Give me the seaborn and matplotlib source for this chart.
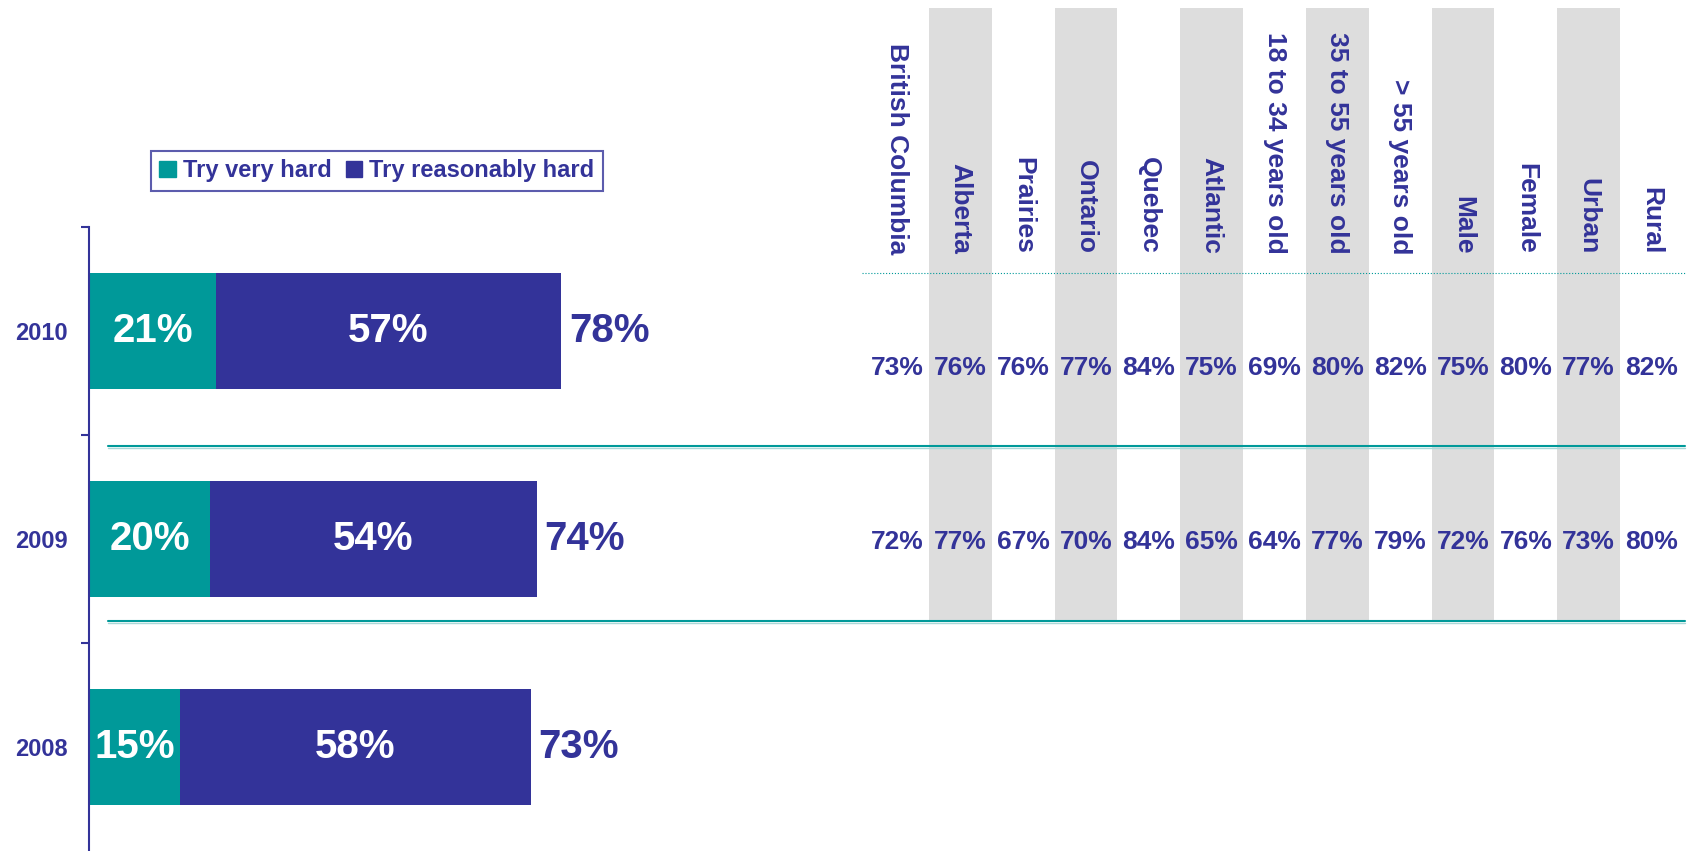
import pandas as pd
import matplotlib
matplotlib.use('Agg')
import matplotlib.pyplot as plt
from matplotlib.lines import Line2D
from matplotlib.patches import Patch
import seaborn as sns

# Data
years = ['2010', '2009', '2008']
very_hard = [21, 20, 15]
reasonably_hard = [57, 54, 58]
totals = [78, 74, 73]

groups = ['British Columbia', 'Alberta', 'Prairies', 'Ontario', 'Quebec', 'Atlantic',
          '18 to 34 years old', '35 to 55 years old', '> 55 years old',
          'Male', 'Female', 'Urban', 'Rural']
row_2010 = [73, 76, 76, 77, 84, 75, 69, 80, 82, 75, 80, 77, 82]
row_2009 = [72, 77, 67, 70, 84, 65, 64, 77, 79, 72, 76, 73, 80]

TEAL = '#009999'
NAVY = '#333399'
GREY = '#DDDDDD'
W, H = 1694, 851

sns.set_style('white')
plt.rcParams['font.family'] = ['Liberation Sans', 'DejaVu Sans']

fig = plt.figure(figsize=(W / 100, H / 100), dpi=100)

# Stacked bars (total drawn first, teal part over it)
ax = fig.add_axes([89 / W, 0, (860 - 89) / W, (851 - 227) / H])
bars_df = pd.DataFrame({'year': years, 'very': very_hard, 'total': totals})
sns.barplot(data=bars_df, y='year', x='total', order=years, color=NAVY, width=0.56,
            saturation=1, linewidth=0, orient='h', ax=ax)
sns.barplot(data=bars_df, y='year', x='very', order=years, color=TEAL, width=0.56,
            saturation=1, linewidth=0, orient='h', ax=ax)
ax.set_xlim(0, (860 - 89) / 6.05)
ax.set_ylim(2.5, -0.5)
ax.set_xlabel('')
ax.set_ylabel('')
ax.set_xticks([])
ax.set_yticks(range(len(years)))
ax.set_yticklabels(years, color=NAVY, fontsize=17, fontweight='bold')
ax.set_yticks([-0.5, 0.5, 1.5], minor=True)
ax.tick_params(axis='y', which='both', left=True)
ax.tick_params(axis='y', which='major', length=0, pad=15)
ax.tick_params(axis='y', which='minor', length=6, width=1.5, color=NAVY)
for s in ['top', 'right', 'bottom']:
    ax.spines[s].set_visible(False)
ax.spines['left'].set_color(NAVY)
ax.spines['left'].set_linewidth(1.5)

for i, (v, r, t) in enumerate(zip(very_hard, reasonably_hard, totals)):
    ax.text(v / 2, i, f'{v}%', ha='center', va='center', color='white',
            fontsize=29, fontweight='bold')
    ax.text(v + r / 2, i, f'{r}%', ha='center', va='center', color='white',
            fontsize=29, fontweight='bold')
    ax.text(t + 1.3, i, f'{t}%', ha='left', va='center', color=NAVY,
            fontsize=29, fontweight='bold')

# Breakdown table on the right
tx = fig.add_axes([866 / W, 0, (1683 - 866) / W, 1])
tx.set_xlim(0, len(groups))
tx.set_ylim(H, 0)
tx.axis('off')
for j in range(1, len(groups), 2):
    tx.bar(j + 0.5, 621 - 7.5, bottom=7.5, width=1, color=GREY, linewidth=0)
for j, g in enumerate(groups):
    tx.text(j + 0.5, 254, g, rotation=270, ha='center', va='bottom', color=NAVY,
            fontsize=19, fontweight='bold')
    tx.text(j + 0.5, 368, f'{row_2010[j]}%', ha='center', va='center', color=NAVY,
            fontsize=19, fontweight='bold')
    tx.text(j + 0.5, 542, f'{row_2009[j]}%', ha='center', va='center', color=NAVY,
            fontsize=19, fontweight='bold')

# Separator lines
fig.add_artist(Line2D([862 / W, 1685 / W], [1 - 273 / H] * 2, color=TEAL, lw=0.8, ls=':'))
for yy in [446, 621]:
    fig.add_artist(Line2D([108 / W, 1685 / W], [1 - (yy + 2) / H] * 2, color='#A8D8D8', lw=1))
    fig.add_artist(Line2D([108 / W, 1685 / W], [1 - yy / H] * 2, color=TEAL, lw=1.5))

# Legend
handles = [Patch(color=TEAL, label='Try very hard'), Patch(color=NAVY, label='Try reasonably hard')]
leg = fig.legend(handles=handles, loc='upper left', bbox_to_anchor=(151 / W, 1 - 151 / H),
                 ncol=2, frameon=True, fancybox=False, edgecolor=NAVY, labelcolor=NAVY,
                 prop={'weight': 'bold', 'size': 17}, handlelength=0.7, handleheight=0.7,
                 handletextpad=0.3, columnspacing=0.6, borderpad=0.35, borderaxespad=0)
leg.get_frame().set_linewidth(1.5)

fig.savefig('out.png', dpi=100)
